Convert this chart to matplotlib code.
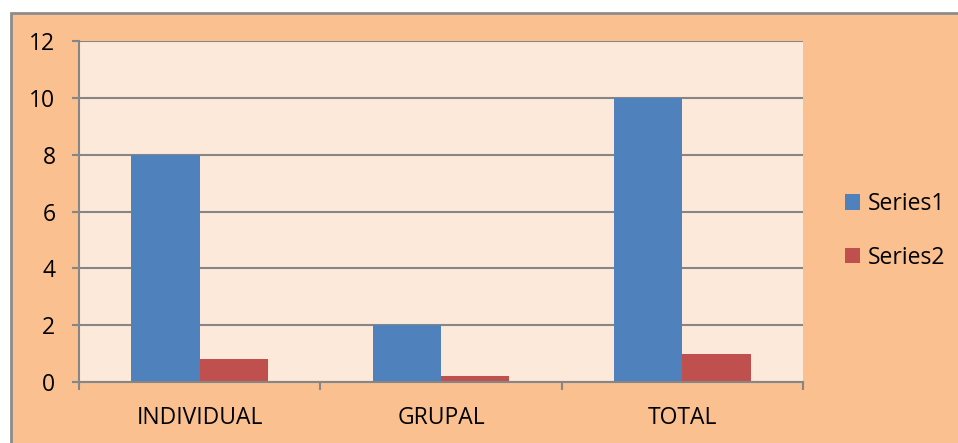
import numpy as np
import matplotlib.pyplot as plt
from matplotlib.patches import Rectangle

categories = ['INDIVIDUAL', 'GRUPAL', 'TOTAL']
series1 = [8, 2, 10]
series2 = [0.8, 0.2, 1.0]
series_names = ['Series1', 'Series2']

W, H = 958, 443
fig = plt.figure(figsize=(W / 100, H / 100), dpi=100)
fig.patch.set_facecolor('white')
plt.rcParams['font.family'] = ['Open Sans', 'DejaVu Sans']

# chart area: peach with gray border, only left and top edge inside the crop
bx, by = 10.5 / W, 1 - 12.5 / H
fig.add_artist(Rectangle((bx, -0.1), 1.2, by + 0.1, transform=fig.transFigure,
                         facecolor='#FAC090', edgecolor='#8C8C8C', linewidth=2, zorder=0))

left, right, top, bottom = 79, 803, 41, 382
ax = fig.add_axes([left / W, 1 - bottom / H, (right - left) / W, (bottom - top) / H])
ax.set_facecolor('#FDE9D9')

x = np.arange(len(categories))
w = 0.283
b1 = ax.bar(x - w / 2, series1, w, color='#4F81BD', label=series_names[0], zorder=3)
b2 = ax.bar(x + w / 2, series2, w, color='#C0504D', label=series_names[1], zorder=3)

ax.set_xlim(-0.5, len(categories) - 0.5)
ax.set_ylim(0, 12)
ax.set_yticks(np.arange(0, 13, 2))
ax.yaxis.grid(True, color='#868686', linewidth=1.5, zorder=1)
ax.set_axisbelow(True)

for s in ['top', 'right']:
    ax.spines[s].set_visible(False)
for s in ['left', 'bottom']:
    ax.spines[s].set_color('#868686')
    ax.spines[s].set_linewidth(1.5)
    ax.spines[s].set_zorder(4)

ax.set_xticks(np.arange(len(categories) + 1) - 0.5)
ax.set_xticklabels([])
ax.set_xticks(x, minor=True)
ax.set_xticklabels(categories, minor=True)
ax.tick_params(axis='x', which='major', length=6, width=1.5, color='#868686', direction='out')
ax.tick_params(axis='x', which='minor', length=0, pad=17, labelsize=16.5)
ax.tick_params(axis='y', length=5, width=1.5, color='#868686', pad=12, labelsize=16.5)

fig.legend(handles=[b1, b2], labels=series_names, loc='center left',
           bbox_to_anchor=(824 / W, 1 - 231 / H), frameon=False, fontsize=16.5,
           handlelength=0.65, handleheight=0.65, handletextpad=0.35, labelspacing=1.3)

fig.savefig('out.png', dpi=100, facecolor=fig.get_facecolor())
